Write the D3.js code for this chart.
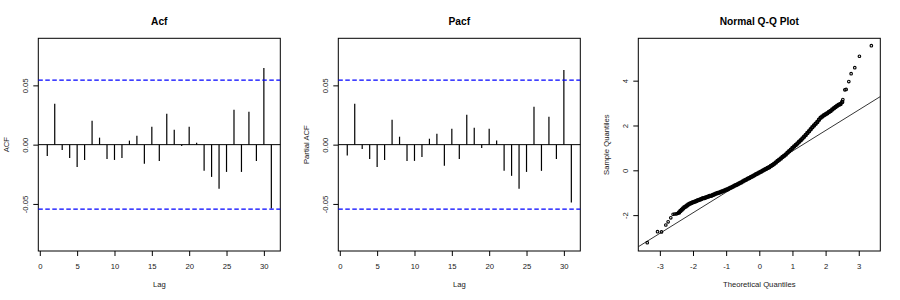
<!DOCTYPE html>
<html>
<head>
<meta charset="utf-8">
<script src="https://cdn.jsdelivr.net/npm/d3@7"></script>
<style>
	body { margin: 0; background: #fff; }
	text { font-family: "Liberation Sans", Arial, sans-serif; fill: #222; }
</style>
</head>
<body>
<script>

// lags 1..31
var lags = d3.range(1, 32);

var acfValues = [-0.0095, 0.0345, -0.0045, -0.0112, -0.0188, -0.0129, 0.0202, 0.0059,
	-0.0120, -0.0129, -0.0112, 0.0034, 0.0076, -0.0162, 0.0151, -0.0137, 0.0260,
	0.0126, -0.0011, 0.0151, 0.0017, -0.0221, -0.0272, -0.0373, -0.0230, 0.0294,
	-0.0230, 0.0277, -0.0137, 0.0647, -0.0538];

var pacfValues = [-0.0092, 0.0345, -0.0036, -0.0120, -0.0188, -0.0129, 0.0210, 0.0067,
	-0.0137, -0.0137, -0.0104, 0.0050, 0.0092, -0.0179, 0.0134, -0.0120, 0.0252,
	0.0143, -0.0028, 0.0134, 0.0034, -0.0221, -0.0263, -0.0373, -0.0230, 0.0319,
	-0.0221, 0.0235, -0.0120, 0.0630, -0.0487];

// 95% bounds drawn in blue
var ciBound = 0.0544;

var acfTicks = [-0.05, 0, 0.05];
var acfTickLabels = ['-0.05', '0.00', '0.05'];
var lagTicks = [0, 5, 10, 15, 20, 25, 30];

// points
var qqTheoretical = [-3.38, -3.07, -2.95, -2.82, -2.75, -2.67, -2.60, -2.55, -2.50, -2.46,
	-2.42, -2.38, -2.34, -2.30, -2.26, -2.22, -2.18, -2.14, -2.10, -2.05, -2.00, -1.95,
	-1.90, -1.85, -1.80, -1.75, -1.70, -1.65, -1.60, -1.55, -1.50, -1.45, -1.40, -1.35,
	-1.30, -1.25, -1.20, -1.15, -1.10, -1.05, -1.00, -0.95, -0.90, -0.85, -0.80, -0.75,
	-0.70, -0.65, -0.60, -0.55, -0.50, -0.45, -0.40, -0.35, -0.30, -0.25, -0.20, -0.15,
	-0.10, -0.05, 0.00, 0.05, 0.10, 0.15, 0.20, 0.25, 0.30, 0.35, 0.40, 0.45, 0.50, 0.55,
	0.60, 0.65, 0.70, 0.75, 0.80, 0.85, 0.90, 0.95, 1.00, 1.05, 1.10, 1.15, 1.20, 1.25,
	1.30, 1.35, 1.40, 1.45, 1.50, 1.55, 1.60, 1.65, 1.70, 1.75, 1.80, 1.85, 1.90, 1.95,
	2.00, 2.05, 2.10, 2.15, 2.20, 2.25, 2.30, 2.35, 2.40, 2.45, 2.50,
	2.52, 2.58, 2.62, 2.70, 2.77, 2.88, 3.02, 3.38];

var qqSample = [-3.23, -2.74, -2.75, -2.44, -2.30, -2.12, -1.96, -1.95, -1.94, -1.92,
	-1.88, -1.82, -1.76, -1.70, -1.65, -1.61, -1.57, -1.53, -1.49, -1.46, -1.43, -1.40,
	-1.37, -1.34, -1.31, -1.28, -1.25, -1.23, -1.20, -1.18, -1.15, -1.13, -1.10, -1.07,
	-1.04, -1.01, -0.99, -0.96, -0.93, -0.90, -0.87, -0.84, -0.80, -0.77, -0.73, -0.69,
	-0.66, -0.62, -0.58, -0.54, -0.50, -0.46, -0.42, -0.38, -0.34, -0.30, -0.26, -0.22,
	-0.18, -0.14, -0.10, -0.06, -0.02, 0.02, 0.06, 0.10, 0.14, 0.19, 0.24, 0.29, 0.35, 0.41,
	0.47, 0.53, 0.59, 0.65, 0.71, 0.78, 0.85, 0.92, 0.99, 1.06, 1.13, 1.20, 1.27, 1.34,
	1.42, 1.50, 1.58, 1.66, 1.74, 1.83, 1.92, 2.00, 2.08, 2.16, 2.26, 2.34, 2.40, 2.46,
	2.50, 2.55, 2.60, 2.65, 2.71, 2.77, 2.83, 2.88, 2.92, 2.96, 3.05,
	3.16, 3.59, 3.61, 3.96, 4.31, 4.58, 5.09, 5.56];

// qqline end points (through the quartiles)
var qqLine = [[-3.65, -3.41], [3.65, 3.29]];

var qqXTicks = [-3, -2, -1, 0, 1, 2, 3];
var qqYTicks = [-2, 0, 2, 4];

var width = 900,
	height = 300;

var plotTop = 38.3,
	plotBottom = 251,
	panelWidth = 242;

var panelLeft = [38.3, 338.3, 638.3];

// R style minus sign
function intFormat(d) { return d < 0 ? '-' + Math.abs(d) : String(d); }

var svg = d3.select('body')
	.append('svg')
	.attr('width', width)
	.attr('height', height);

svg.append('rect')
	.attr('width', width)
	.attr('height', height)
	.attr('fill', '#fff');

function drawFrame(g, x, y, title, xLabel, yLabel, xTicks, yTicks, xFormat, yFormat) {
	var left = x.range()[0];

	g.append('g')
		.attr('transform', 'translate(0,' + plotBottom + ')')
		.call(d3.axisBottom(x).tickValues(xTicks).tickFormat(xFormat).tickSize(5).tickPadding(7.3).tickSizeOuter(0))
		.call(function(a) {
			a.select('.domain').remove();
			a.selectAll('line').attr('stroke', '#000');
			a.selectAll('text').style('font-size', '7.7px').attr('fill', '#222');
		});

	g.append('g')
		.attr('transform', 'translate(' + left + ',0)')
		.call(d3.axisLeft(y).tickValues(yTicks).tickFormat(yFormat).tickSize(5).tickSizeOuter(0))
		.call(function(a) {
			a.select('.domain').remove();
			a.selectAll('line').attr('stroke', '#000');
			a.selectAll('text')
				.style('font-size', '7.7px')
				.attr('fill', '#222')
				.attr('x', 0)
				.attr('y', -10.5)
				.attr('dy', null)
				.attr('text-anchor', 'middle')
				.attr('transform', 'rotate(-90)');
		});

	g.append('rect')
		.attr('x', left)
		.attr('y', plotTop)
		.attr('width', panelWidth)
		.attr('height', plotBottom - plotTop)
		.attr('fill', 'none')
		.attr('stroke', '#000')
		.attr('stroke-width', 1);

	g.append('text')
		.attr('x', left + panelWidth / 2)
		.attr('y', 24.5)
		.attr('text-anchor', 'middle')
		.style('font-size', '10.2px')
		.style('font-weight', 'bold')
		.style('fill', '#000')
		.text(title);

	g.append('text')
		.attr('x', left + panelWidth / 2)
		.attr('y', 287.2)
		.attr('text-anchor', 'middle')
		.style('font-size', '7.7px')
		.text(xLabel);

	g.append('text')
		.attr('transform', 'translate(' + (left - 29.5) + ',' + ((plotTop + plotBottom) / 2) + ') rotate(-90)')
		.attr('text-anchor', 'middle')
		.style('font-size', '7.7px')
		.text(yLabel);
}

function drawCorrelogram(i, values, title, yLabel) {
	var x = d3.scaleLinear()
		.domain([-0.2, 32.2])
		.range([panelLeft[i], panelLeft[i] + panelWidth]);

	var y = d3.scaleLinear()
		.domain([-0.0897, 0.0897])
		.range([plotBottom, plotTop]);

	var g = svg.append('g');

	drawFrame(g, x, y, title, 'Lag', yLabel, lagTicks, acfTicks, intFormat, function(d) {
		return acfTickLabels[acfTicks.indexOf(d)];
	});

	g.append('line')
		.attr('x1', x.range()[0])
		.attr('x2', x.range()[1])
		.attr('y1', y(0))
		.attr('y2', y(0))
		.attr('stroke', '#000')
		.attr('stroke-width', 1);

	g.selectAll('.bar')
		.data(values)
		.enter().append('line')
		.attr('class', 'bar')
		.attr('x1', function(d, j) { return x(lags[j]); })
		.attr('x2', function(d, j) { return x(lags[j]); })
		.attr('y1', y(0))
		.attr('y2', function(d) { return y(d); })
		.attr('stroke', '#000')
		.attr('stroke-width', 1.2);

	g.selectAll('.ci')
		.data([ciBound, -ciBound])
		.enter().append('line')
		.attr('class', 'ci')
		.attr('x1', x.range()[0])
		.attr('x2', x.range()[1])
		.attr('y1', function(d) { return y(d); })
		.attr('y2', function(d) { return y(d); })
		.attr('stroke', '#0000ff')
		.attr('stroke-width', 1.1)
		.attr('stroke-dasharray', '4.5,2.5');
}

drawCorrelogram(0, acfValues, 'Acf', 'ACF');
drawCorrelogram(1, pacfValues, 'Pacf', 'Partial ACF');

// Q-Q panel
var qx = d3.scaleLinear()
	.domain([-3.65, 3.65])
	.range([panelLeft[2], panelLeft[2] + panelWidth]);

var qy = d3.scaleLinear()
	.domain([-3.6, 5.89])
	.range([plotBottom, plotTop]);

var qg = svg.append('g');

drawFrame(qg, qx, qy, 'Normal Q-Q Plot', 'Theoretical Quantiles', 'Sample Quantiles',
	qqXTicks, qqYTicks, intFormat, intFormat);

qg.append('clipPath')
	.attr('id', 'qqclip')
	.append('rect')
	.attr('x', panelLeft[2])
	.attr('y', plotTop)
	.attr('width', panelWidth)
	.attr('height', plotBottom - plotTop);

qg.append('line')
	.attr('clip-path', 'url(#qqclip)')
	.attr('x1', qx(qqLine[0][0]))
	.attr('y1', qy(qqLine[0][1]))
	.attr('x2', qx(qqLine[1][0]))
	.attr('y2', qy(qqLine[1][1]))
	.attr('stroke', '#000')
	.attr('stroke-width', 0.8);

// where many points pile up the circles merge into a solid band
qg.selectAll('circle')
	.data(qqSample)
	.enter().append('circle')
	.attr('cx', function(d, j) { return qx(qqTheoretical[j]); })
	.attr('cy', function(d) { return qy(d); })
	.attr('r', 1.3)
	.attr('fill', 'none')
	.attr('stroke', '#000')
	.attr('stroke-width', function(d, j) {
		var t = qqTheoretical[j];
		return (t > -2.45 && t < 2.51) ? 1.9 : 1.1;
	});

</script>
</body>
</html>
